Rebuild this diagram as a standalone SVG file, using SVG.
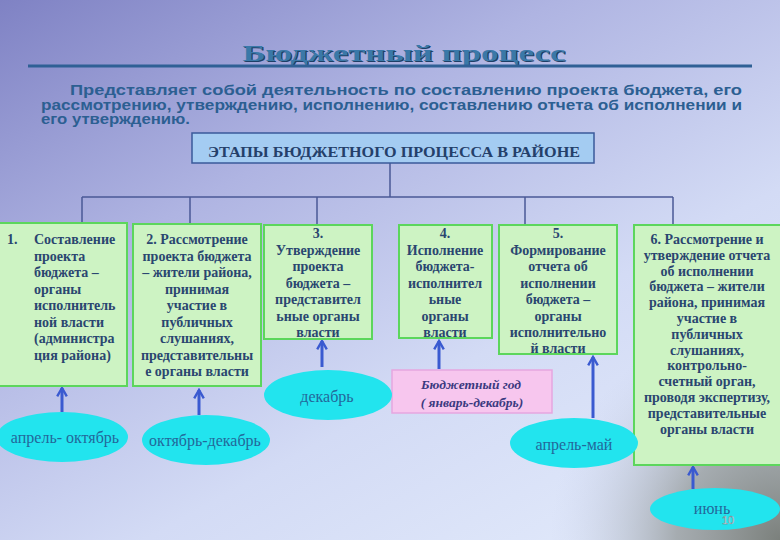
<svg xmlns="http://www.w3.org/2000/svg" width="780" height="540" viewBox="0 0 780 540">
<defs>
<linearGradient id="bg" x1="0" y1="0" x2="0.8" y2="1">
<stop offset="0" stop-color="#7f82c4"/>
<stop offset="0.35" stop-color="#afb4e2"/>
<stop offset="0.7" stop-color="#d3dbf5"/>
<stop offset="1" stop-color="#e0e8fa"/>
</linearGradient>
<radialGradient id="corner" cx="780" cy="540" r="230" gradientUnits="userSpaceOnUse">
<stop offset="0" stop-color="#7b807c" stop-opacity="1"/>
<stop offset="0.45" stop-color="#979d9e" stop-opacity="0.8"/>
<stop offset="1" stop-color="#c8d0ea" stop-opacity="0"/>
</radialGradient>
<marker id="arr" viewBox="0 0 10 10" refX="8" refY="5" markerWidth="4" markerHeight="4" orient="auto" markerUnits="strokeWidth">
<path d="M1,1 L8,5 L1,9" fill="none" stroke="#3a5ad0" stroke-width="2"/>
</marker>
<style>
.box{fill:#cdf3c3;stroke:#5cd65c;stroke-width:2}
.bt{font-family:"Liberation Serif","DejaVu Serif",serif;font-weight:bold;font-size:14px;fill:#2a4670;text-anchor:middle}
.bl{font-family:"Liberation Serif","DejaVu Serif",serif;font-weight:bold;font-size:14px;fill:#2a4670}
.ell{fill:#22e4ee}
.et{font-family:"Liberation Serif","DejaVu Serif",serif;font-size:16px;fill:#22689a;text-anchor:middle}
.con{fill:none;stroke:#4a5896;stroke-width:1.5}
.up{stroke:#3a5ad0;stroke-width:3;fill:none;marker-end:url(#arr)}
.para{font-family:"Liberation Sans","DejaVu Sans",sans-serif;font-weight:bold;font-size:14px;fill:#2c5f92}
</style>
</defs>
<rect x="0" y="0" width="780" height="540" fill="url(#bg)"/>
<rect x="0" y="0" width="780" height="540" fill="url(#corner)"/>

<g id="title">
<text x="404" y="61" text-anchor="middle" textLength="323" lengthAdjust="spacingAndGlyphs" font-family="Liberation Serif, DejaVu Serif, serif" font-weight="bold" font-size="24" fill="#1e3f66" transform="translate(1.2,1.2)">Бюджетный процесс</text>
<text x="404" y="61" text-anchor="middle" textLength="323" lengthAdjust="spacingAndGlyphs" font-family="Liberation Serif, DejaVu Serif, serif" font-weight="bold" font-size="24" fill="#3a78a8">Бюджетный процесс</text>
<line x1="28" y1="66" x2="752" y2="66" stroke="#2f6095" stroke-width="3"/>
</g>

<g id="definition">
<text class="para" x="70" y="95" textLength="672" lengthAdjust="spacingAndGlyphs">Представляет собой деятельность по составлению проекта бюджета, его</text>
<text class="para" x="41" y="110" textLength="701" lengthAdjust="spacingAndGlyphs">рассмотрению, утверждению, исполнению, составлению отчета об исполнении и</text>
<text class="para" x="41" y="124" textLength="149" lengthAdjust="spacingAndGlyphs">его утверждению.</text>
</g>

<g id="connectors">
<line class="con" x1="390" y1="163" x2="390" y2="197"/>
<line class="con" x1="82" y1="197" x2="673" y2="197"/>
<line class="con" x1="82" y1="197" x2="82" y2="223"/>
<line class="con" x1="190" y1="197" x2="190" y2="223"/>
<line class="con" x1="317" y1="197" x2="317" y2="225"/>
<line class="con" x1="525" y1="197" x2="525" y2="225"/>
<line class="con" x1="673" y1="197" x2="673" y2="225"/>
<line class="up" x1="62" y1="412" x2="62" y2="388"/>
<line class="up" x1="199" y1="415" x2="199" y2="390"/>
<line class="up" x1="322" y1="367" x2="322" y2="341"/>
<line class="up" x1="439" y1="369" x2="439" y2="341"/>
<line class="up" x1="593" y1="418" x2="593" y2="357"/>
<line class="up" x1="693" y1="489" x2="693" y2="467"/>
</g>

<g id="header">
<rect x="192" y="133" width="402" height="30" fill="#a4ccf2" stroke="#3a5a9a" stroke-width="1.5"/>
<text x="394" y="157" text-anchor="middle" textLength="372" lengthAdjust="spacingAndGlyphs" font-family="Liberation Serif, DejaVu Serif, serif" font-weight="bold" font-size="15" fill="#24406a">ЭТАПЫ БЮДЖЕТНОГО ПРОЦЕССА В РАЙОНЕ</text>
</g>

<g id="stage1">
<rect class="box" x="-2" y="223" width="129" height="163"/>
<text class="bl" x="7" y="244">1.</text>
<text class="bl" x="34" y="244">Составление</text>
<text class="bl" x="34" y="260.5">проекта</text>
<text class="bl" x="34" y="277">бюджета –</text>
<text class="bl" x="34" y="293.5">органы</text>
<text class="bl" x="34" y="310">исполнитель</text>
<text class="bl" x="34" y="326.5">ной власти</text>
<text class="bl" x="34" y="343">(администра</text>
<text class="bl" x="34" y="359.5">ция района)</text>
</g>

<g id="stage2">
<rect class="box" x="133" y="224" width="128" height="162"/>
<text class="bt" x="197" y="244">2. Рассмотрение</text>
<text class="bt" x="197" y="260.5">проекта бюджета</text>
<text class="bt" x="197" y="277">– жители района,</text>
<text class="bt" x="197" y="293.5">принимая</text>
<text class="bt" x="197" y="310">участие в</text>
<text class="bt" x="197" y="326.5">публичных</text>
<text class="bt" x="197" y="343">слушаниях,</text>
<text class="bt" x="197" y="359.5">представительны</text>
<text class="bt" x="197" y="376">е органы власти</text>
</g>

<g id="stage3">
<rect class="box" x="264" y="225" width="108" height="114"/>
<text class="bt" x="318" y="238">3.</text>
<text class="bt" x="318" y="254.5">Утверждение</text>
<text class="bt" x="318" y="271">проекта</text>
<text class="bt" x="318" y="287.5">бюджета –</text>
<text class="bt" x="318" y="304">представител</text>
<text class="bt" x="318" y="320.5">ьные органы</text>
<text class="bt" x="318" y="337">власти</text>
</g>

<g id="stage4">
<rect class="box" x="399" y="225" width="93" height="113"/>
<text class="bt" x="445" y="238">4.</text>
<text class="bt" x="445" y="254.5">Исполнение</text>
<text class="bt" x="445" y="271">бюджета-</text>
<text class="bt" x="445" y="287.5">исполнител</text>
<text class="bt" x="445" y="304">ьные</text>
<text class="bt" x="445" y="320.5">органы</text>
<text class="bt" x="445" y="337">власти</text>
</g>

<g id="stage5">
<rect class="box" x="499" y="225" width="118" height="129"/>
<text class="bt" x="558" y="238">5.</text>
<text class="bt" x="558" y="254.5">Формирование</text>
<text class="bt" x="558" y="271">отчета об</text>
<text class="bt" x="558" y="287.5">исполнении</text>
<text class="bt" x="558" y="304">бюджета –</text>
<text class="bt" x="558" y="320.5">органы</text>
<text class="bt" x="558" y="337">исполнительно</text>
<text class="bt" x="558" y="353">й власти</text>
</g>

<g id="stage6">
<rect class="box" x="634" y="225" width="148" height="240"/>
<text class="bt" x="707" y="244">6. Рассмотрение и</text>
<text class="bt" x="707" y="259.8">утверждение отчета</text>
<text class="bt" x="707" y="275.6">об исполнении</text>
<text class="bt" x="707" y="291.4">бюджета – жители</text>
<text class="bt" x="707" y="307.2">района, принимая</text>
<text class="bt" x="707" y="323">участие в</text>
<text class="bt" x="707" y="338.8">публичных</text>
<text class="bt" x="707" y="354.6">слушаниях,</text>
<text class="bt" x="707" y="370.4">контрольно-</text>
<text class="bt" x="707" y="386.2">счетный орган,</text>
<text class="bt" x="707" y="402">проводя экспертизу,</text>
<text class="bt" x="707" y="417.8">представительные</text>
<text class="bt" x="707" y="433.6">органы власти</text>
</g>

<g id="budget-year">
<rect x="392" y="370" width="160" height="43" fill="#f7c6ee" stroke="#e6a6e0" stroke-width="1.5"/>
<text x="471" y="389" text-anchor="middle" font-family="Liberation Serif, DejaVu Serif, serif" font-weight="bold" font-style="italic" font-size="13.5" fill="#3b3a80">Бюджетный год</text>
<text x="472" y="407" text-anchor="middle" font-family="Liberation Serif, DejaVu Serif, serif" font-weight="bold" font-style="italic" font-size="13.5" fill="#3b3a80">( январь-декабрь)</text>
</g>

<g id="period1">
<ellipse class="ell" cx="62" cy="437" rx="66" ry="25"/>
<text class="et" x="65" y="443">апрель- октябрь</text>
</g>
<g id="period2">
<ellipse class="ell" cx="206" cy="440" rx="64" ry="25"/>
<text class="et" x="205" y="446">октябрь-декабрь</text>
</g>
<g id="period3">
<ellipse class="ell" cx="328" cy="395" rx="64" ry="25"/>
<text class="et" x="327" y="402">декабрь</text>
</g>
<g id="period5">
<ellipse class="ell" cx="574" cy="443" rx="64" ry="25"/>
<text class="et" x="574" y="450">апрель-май</text>
</g>
<g id="period6">
<ellipse class="ell" cx="715" cy="509" rx="65" ry="21"/>
<text class="et" x="712" y="514">июнь</text>
</g>
<text x="728" y="524" text-anchor="middle" font-family="Liberation Sans, DejaVu Sans, sans-serif" font-size="11" fill="#f4f8ff" stroke="#6a7a80" stroke-width="0.4">10</text>
</svg>
